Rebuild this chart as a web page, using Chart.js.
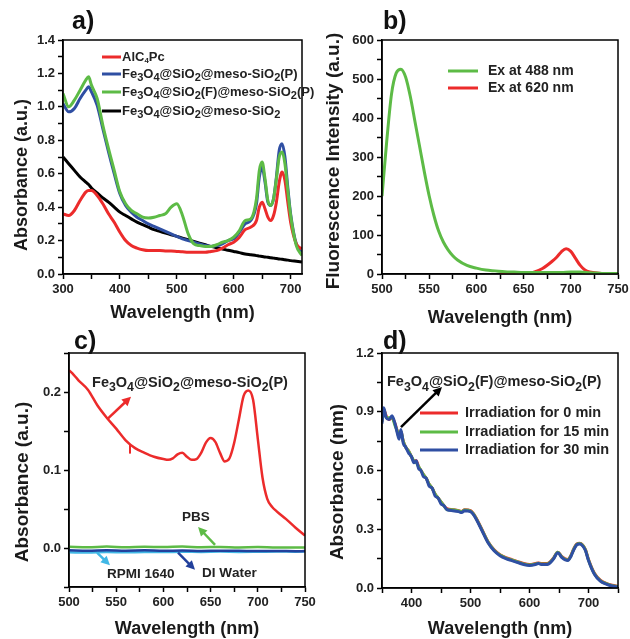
<!DOCTYPE html>
<html>
<head>
<meta charset="utf-8">
<script src="https://cdn.jsdelivr.net/npm/chart.js@4.4.0/dist/chart.umd.min.js"></script>
<style>
html, body { margin: 0; padding: 0; background: #fff; }
#wrap { position: relative; width: 630px; height: 639px; overflow: hidden; }
canvas { position: absolute; }
</style>
</head>
<body>
<div id="wrap">
  <canvas id="pa" width="315" height="332" style="left:0;top:0"></canvas>
  <canvas id="pb" width="315" height="332" style="left:315px;top:0"></canvas>
  <canvas id="pc" width="330" height="319" style="left:0;top:320px"></canvas>
  <canvas id="pd" width="315" height="319" style="left:315px;top:320px"></canvas>
</div>
<script>
// ---- panel a: absorption spectra ----
const wlA = [300, 310, 320, 330, 340, 345, 350, 360, 370, 380,
             390, 400, 410, 420, 430, 440, 450, 460, 470, 480,
             490, 500, 510, 520, 530, 540, 550, 560, 570, 580,
             590, 600, 610, 620, 630, 640, 645, 650, 655, 660,
             665, 670, 675, 680, 685, 690, 695, 700, 710, 720];
const absAlC4Pc = [.36, .35, .38, .44, .49, .50, .50, .47, .42, .36,
                   .31, .25, .20, .17, .155, .145, .14, .14, .14, .138,
                   .137, .135, .133, .13, .13, .13, .13, .135, .14, .155,
                   .175, .19, .22, .265, .28, .32, .40, .43, .39, .34,
                   .32, .35, .43, .55, .61, .56, .43, .31, .18, .15];
const absFeP = [1.02, .97, .99, 1.05, 1.10, 1.12, 1.09, 1.01, .87, .73,
                .60, .48, .41, .37, .34, .32, .30, .285, .27, .255,
                .24, .225, .21, .20, .19, .18, .17, .165, .17, .18,
                .20, .21, .25, .30, .32, .42, .58, .64, .55, .43,
                .41, .45, .58, .74, .78, .70, .52, .36, .18, .13];
const absFeFP = [1.08, 1.00, 1.04, 1.10, 1.16, 1.18, 1.13, 1.05, .89, .75,
                 .62, .49, .42, .38, .36, .34, .335, .34, .35, .36,
                 .40, .42, .35, .24, .18, .17, .165, .165, .175, .19,
                 .20, .22, .26, .32, .33, .45, .62, .67, .57, .44,
                 .41, .45, .57, .70, .73, .66, .50, .35, .17, .11];
const absFeBare = [.70, .66, .62, .58, .55, .535, .515, .485, .455, .43,
                   .40, .37, .35, .33, .31, .295, .28, .265, .255, .245,
                   .235, .225, .215, .205, .195, .185, .175, .165, .157, .15,
                   .142, .135, .128, .12, .115, .11, .107, .105, .102, .10,
                   .097, .095, .093, .09, .088, .085, .083, .08, .076, .072];
const xLabelsA = [300, 400, 500, 600, 700];
const yLabelsA = [0, 0.2, 0.4, 0.6, 0.8, 1.0, 1.2, 1.4];

// ---- panel b: fluorescence ----
const wlB488 = [500, 505, 510, 515, 520, 525, 530, 535, 540, 545, 550, 555, 560, 565, 570, 575, 580,
                590, 600, 610, 620, 630, 640, 650, 660, 670, 680, 690, 700, 710, 720, 730, 740, 750];
const flB488 = [200, 340, 460, 515, 525, 505, 455, 390, 325, 260, 200, 150, 110, 82, 62, 47, 36,
                22, 15, 10, 8, 6, 5, 4, 4, 4, 4, 4, 5, 5, 3, 2, 1, 1];
const wlB620 = [625, 640, 650, 660, 670, 680, 685, 690, 695, 700, 705, 710, 715, 720, 730, 740, 750];
const flB620 = [0, 0, 1, 4, 14, 32, 43, 57, 65, 58, 40, 22, 10, 5, 2, 1, 0];
const xLabelsB = [500, 550, 600, 650, 700, 750];
const yLabelsB = [0, 100, 200, 300, 400, 500, 600];

// ---- panel c: stability in media ----
const wlC = [500, 505, 510, 520, 530, 540, 550, 560, 570, 580, 590, 600, 605, 610, 615, 620, 625, 630, 635, 640,
             645, 650, 655, 660, 665, 670, 675, 680, 685, 690, 695, 700, 705, 710, 715, 720, 730, 740, 750];
const absCP = [.228, .222, .215, .203, .183, .167, .153, .138, .128, .122, .117, .114, .113, .115, .12, .122, .117, .113, .114, .122,
               .135, .141, .136, .122, .111, .115, .135, .165, .195, .202, .19, .14, .09, .063, .053, .047, .037, .026, .016];
const wlCflat = [500, 520, 540, 560, 580, 600, 620, 640, 660, 680, 700, 720, 740, 750];
const absPBS = [.0015, .001, .0018, .001, .0015, .0012, .0018, .001, .0014, .0008, .0012, .0006, .0008, .0005];
const absRPMI = [-.0055, -.0058, -.005, -.0056, -.005, -.0052, -.0048, -.005, -.0046, -.005, -.0048, -.0045, -.0047, -.0045];
const absDI = [-.003, -.0035, -.0028, -.0034, -.003, -.0036, -.0032, -.0038, -.0034, -.0036, -.004, -.0038, -.0042, -.004];
const xLabelsC = [500, 550, 600, 650, 700, 750];
const yLabelsC = [0, 0.1, 0.2];

// ---- panel d: irradiation ----
const wlD = [350, 353, 357, 362, 367, 372, 376, 379, 382, 386,
             390, 395, 400, 404, 408, 412, 416, 420, 425, 430,
             435, 440, 445, 450, 455, 460, 470, 480, 485, 490,
             500, 505, 510, 520, 530, 540, 550, 560, 570, 580,
             590, 600, 610, 615, 620, 630, 640, 648, 655, 665,
             670, 675, 680, 685, 690, 695, 700, 710, 720, 730, 740, 750];
const absD0 = [.85, .91, .88, .86, .87, .84, .80, .77, .80, .75,
               .72, .70, .67, .65, .65, .62, .60, .58, .56, .53,
               .51, .48, .46, .44, .42, .405, .40, .395, .39, .40,
               .395, .38, .355, .295, .235, .195, .17, .155, .145, .135,
               .125, .12, .125, .128, .125, .125, .15, .183, .16, .145,
               .165, .20, .225, .228, .22, .195, .145, .075, .04, .024, .014, .008];
const absD15 = [.85, .91, .87, .87, .87, .83, .80, .77, .80, .75,
                .72, .70, .67, .65, .64, .62, .60, .58, .56, .53,
                .51, .48, .46, .44, .42, .40, .40, .393, .39, .398,
                .393, .378, .353, .293, .233, .193, .168, .153, .143, .133,
                .123, .118, .123, .127, .123, .123, .148, .182, .158, .143,
                .163, .198, .223, .227, .218, .193, .143, .073, .038, .022, .012, .007];
const absD30 = [.84, .92, .87, .86, .88, .84, .79, .76, .81, .74,
                .72, .69, .67, .64, .65, .61, .60, .57, .56, .52,
                .51, .47, .46, .43, .42, .40, .395, .39, .385, .395,
                .39, .375, .35, .29, .23, .19, .165, .15, .14, .13,
                .12, .115, .12, .125, .12, .12, .145, .18, .155, .14,
                .16, .195, .22, .225, .215, .19, .14, .07, .035, .02, .01, .005];
const xLabelsD = [400, 500, 600, 700];
const yLabelsD = [0, 0.3, 0.6, 0.9, 1.2];

const FONT = '"Liberation Sans", Arial, sans-serif';
const RED = '#ec2b2b', BLUE = '#2f4fa3', GREEN = '#5dbb46', CYAN = '#41b8e6', NAVY = '#22409c';

function pts(xs, ys) {
    return xs.map((x, i) => ({ x: x, y: ys[i] }));
}

function line(label, xs, ys, color, width, order) {
    return {
        label: label, data: pts(xs, ys),
        borderColor: color, backgroundColor: color, borderWidth: width,
        pointRadius: 0, fill: false, order: order,
        cubicInterpolationMode: 'monotone'
    };
}

// linear axis with outward ticks; only values in `labels` get text
function axis(min, max, step, labels, digits, box) {
    return {
        type: 'linear', min: min, max: max,
        ticks: {
            stepSize: step, autoSkip: false, maxRotation: 0, includeBounds: false, padding: 3,
            color: '#222', font: { family: FONT, size: 13, weight: 'bold' },
            callback: function(v) {
                const hit = labels.find(l => Math.abs(l - v) < step / 10);
                return hit === undefined ? '' : hit.toFixed(digits);
            }
        },
        grid: { drawOnChartArea: false, drawTicks: true, tickLength: 5, tickWidth: 1.5, tickColor: '#000' },
        border: { display: true, color: '#000', width: 1.5 },
        afterFit: function(s) {
            if (s.isHorizontal()) { s.height = box; s.paddingLeft = 0; s.paddingRight = 0; }
            else { s.width = box; s.paddingTop = 0; s.paddingBottom = 0; }
        }
    };
}

// text with "_" (subscript) and "~" (small subscript) markers
function drawRich(ctx, str, x, y, size) {
    let i = 0;
    while (i < str.length) {
        let ch = str[i], fs = size, dy = 0;
        if (ch === '_') { ch = str[++i]; fs = size * 0.85; dy = size * 0.28; }
        else if (ch === '~') { ch = str[++i]; fs = size * 0.6; dy = size * 0.3; }
        ctx.font = 'bold ' + fs + 'px ' + FONT;
        ctx.fillText(ch, x, y + dy);
        x += ctx.measureText(ch).width;
        i++;
    }
}

function arrow(ctx, x1, y1, x2, y2, color, lw) {
    const ang = Math.atan2(y2 - y1, x2 - x1), L = 9, W = 4.5;
    const c = Math.cos(ang), s = Math.sin(ang);
    ctx.strokeStyle = color; ctx.fillStyle = color; ctx.lineWidth = lw;
    ctx.beginPath(); ctx.moveTo(x1, y1); ctx.lineTo(x2 - L * 0.7 * c, y2 - L * 0.7 * s); ctx.stroke();
    ctx.beginPath(); ctx.moveTo(x2, y2);
    ctx.lineTo(x2 - L * c + W * s, y2 - L * s - W * c);
    ctx.lineTo(x2 - L * c - W * s, y2 - L * s + W * c);
    ctx.closePath(); ctx.fill();
}

// frame, panel tag, axis titles, legend and notes
function decor(spec) {
    return {
        id: 'decor',
        afterDraw(chart) {
            const ctx = chart.ctx, a = chart.chartArea;
            const X = v => chart.scales.x.getPixelForValue(v);
            const Y = v => chart.scales.y.getPixelForValue(v);
            ctx.save();
            ctx.strokeStyle = '#000'; ctx.lineWidth = 1.5;
            ctx.strokeRect(a.left, a.top, a.right - a.left, a.bottom - a.top);

            ctx.fillStyle = '#111';
            ctx.textAlign = 'left'; ctx.textBaseline = 'alphabetic';
            ctx.font = 'bold 25px ' + FONT;
            ctx.fillText(spec.tag, spec.tagX, spec.tagY);

            ctx.fillStyle = '#1a1a1a';
            ctx.textAlign = 'center';
            ctx.font = 'bold 18px ' + FONT;
            ctx.fillText('Wavelength (nm)', (a.left + a.right) / 2, spec.xTitleY);
            ctx.save();
            ctx.translate(spec.yTitleX, spec.yTitleMid);
            ctx.rotate(-Math.PI / 2);
            ctx.textBaseline = 'middle';
            ctx.font = 'bold ' + spec.yTitleSize + 'px ' + FONT;
            ctx.fillText(spec.yTitle, 0, 0);
            ctx.restore();

            const lg = spec.legend;
            if (lg) {
                ctx.textAlign = 'left'; ctx.textBaseline = 'middle';
                lg.idx.forEach((di, k) => {
                    const ds = chart.data.datasets[di];
                    ctx.strokeStyle = ds.borderColor; ctx.lineWidth = lg.lw;
                    ctx.beginPath(); ctx.moveTo(lg.x0, lg.ys[k]); ctx.lineTo(lg.x1, lg.ys[k]); ctx.stroke();
                    ctx.fillStyle = '#222';
                    drawRich(ctx, ds.label, lg.tx, lg.ys[k], lg.size);
                });
            }
            if (spec.notes) {
                ctx.textAlign = 'left'; ctx.textBaseline = 'alphabetic';
                spec.notes.forEach(n => {
                    if (n.text) {
                        ctx.fillStyle = '#222';
                        drawRich(ctx, n.text, X(n.at[0]), Y(n.at[1]), n.size);
                    } else if (n.stub) {
                        ctx.strokeStyle = n.color; ctx.lineWidth = 2;
                        ctx.beginPath(); ctx.moveTo(X(n.from[0]), Y(n.from[1])); ctx.lineTo(X(n.to[0]), Y(n.to[1])); ctx.stroke();
                    } else {
                        arrow(ctx, X(n.from[0]), Y(n.from[1]), X(n.to[0]), Y(n.to[1]), n.color, 2.5);
                    }
                });
            }
            ctx.restore();
        }
    };
}

function panel(id, datasets, pad, scales, spec) {
    return new Chart(document.getElementById(id), {
        type: 'line',
        data: { datasets: datasets },
        options: {
            responsive: false, animation: false, events: [],
            layout: { padding: pad },
            scales: scales,
            plugins: { legend: { display: false }, tooltip: { enabled: false } }
        },
        plugins: [decor(spec)]
    });
}

panel('pa', [
    line('AlC~4Pc', wlA, absAlC4Pc, RED, 3, 2),
    line('Fe_3O_4@SiO_2@meso-SiO_2(P)', wlA, absFeP, BLUE, 3, 3),
    line('Fe_3O_4@SiO_2(F)@meso-SiO_2(P)', wlA, absFeFP, GREEN, 3, 1),
    line('Fe_3O_4@SiO_2@meso-SiO_2', wlA, absFeBare, '#000', 3, 4)
], { left: 0, top: 40, right: 13, bottom: 0 }, {
    x: axis(300, 720, 50, xLabelsA, 0, 58),
    y: axis(0, 1.4, 0.1, yLabelsA, 1, 63)
}, {
    tag: 'a)', tagX: 72, tagY: 29, xTitleY: 318,
    yTitle: 'Absorbance (a.u.)', yTitleX: 22, yTitleMid: 175, yTitleSize: 18,
    legend: { x0: 102, x1: 121, tx: 122, ys: [57, 74, 92, 111], size: 13, lw: 3, idx: [0, 1, 2, 3] }
});

panel('pb', [
    line('Ex at 488 nm', wlB488, flB488, GREEN, 3, 1),
    line('Ex at 620 nm', wlB620, flB620, RED, 3, 2)
], { left: 0, top: 40, right: 12, bottom: 0 }, {
    x: axis(500, 750, 25, xLabelsB, 0, 58),
    y: axis(0, 600, 50, yLabelsB, 0, 67)
}, {
    tag: 'b)', tagX: 68, tagY: 29, xTitleY: 323,
    yTitle: 'Fluorescence Intensity (a.u.)', yTitleX: 19, yTitleMid: 161, yTitleSize: 19,
    legend: { x0: 133, x1: 163, tx: 173, ys: [71, 88], size: 14, lw: 3, idx: [0, 1] }
});

panel('pc', [
    line('Fe3O4@SiO2@meso-SiO2(P)', wlC, absCP, RED, 2.5, 1),
    line('PBS', wlCflat, absPBS, GREEN, 2.5, 4),
    line('RPMI 1640', wlCflat, absRPMI, CYAN, 2.5, 3),
    line('DI Water', wlCflat, absDI, NAVY, 2.5, 2)
], { left: 0, top: 33, right: 25, bottom: 0 }, {
    x: axis(500, 750, 25, xLabelsC, 0, 52),
    y: axis(-0.05, 0.25, 0.05, yLabelsC, 1, 69)
}, {
    tag: 'c)', tagX: 74, tagY: 29, xTitleY: 314,
    yTitle: 'Absorbance (a.u.)', yTitleX: 23, yTitleMid: 162, yTitleSize: 19,
    notes: [
        { text: 'Fe_3O_4@SiO_2@meso-SiO_2(P)', at: [524.4, 0.206], size: 14.5 },
        { from: [540.3, 0.165], to: [565.7, 0.194], color: RED },
        { stub: true, from: [564.6, 0.133], to: [564.6, 0.121], color: RED },
        { text: 'PBS', at: [619.7, 0.035], size: 13.5 },
        { from: [654.7, 0.004], to: [636.7, 0.027], color: GREEN },
        { text: 'RPMI 1640', at: [540.3, -0.038], size: 13.5 },
        { from: [529.7, -0.006], to: [543.4, -0.022], color: CYAN },
        { text: 'DI Water', at: [640.8, -0.037], size: 13.5 },
        { from: [615.5, -0.006], to: [633.5, -0.028], color: NAVY }
    ]
});

panel('pd', [
    line('Irradiation for 0 min', wlD, absD0, RED, 3, 3),
    line('Irradiation for 15 min', wlD, absD15, GREEN, 3, 2),
    line('Irradiation for 30 min', wlD, absD30, BLUE, 3, 1)
], { left: 0, top: 33, right: 12, bottom: 0 }, {
    x: axis(350, 750, 50, xLabelsD, 0, 51),
    y: axis(0, 1.2, 0.15, yLabelsD, 1, 67)
}, {
    tag: 'd)', tagX: 68, tagY: 29, xTitleY: 314,
    yTitle: 'Absorbance (nm)', yTitleX: 23, yTitleMid: 162, yTitleSize: 19,
    legend: { x0: 105, x1: 143, tx: 150, ys: [93, 112, 130], size: 14.5, lw: 3, idx: [0, 1, 2] },
    notes: [
        { text: 'Fe_3O_4@SiO_2(F)@meso-SiO_2(P)', at: [358.5, 1.029], size: 14.5 },
        { from: [382.2, 0.822], to: [451.7, 1.026], color: '#000' }
    ]
});
</script>
</body>
</html>
